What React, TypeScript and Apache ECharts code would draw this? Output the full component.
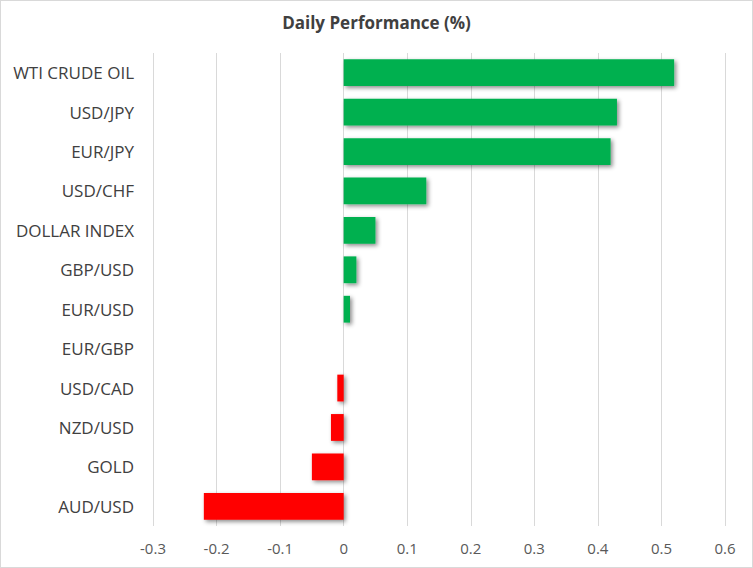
import React, { useEffect, useRef } from "react";
import * as echarts from "echarts";

const categories = [
  "WTI CRUDE OIL",
  "USD/JPY",
  "EUR/JPY",
  "USD/CHF",
  "DOLLAR INDEX",
  "GBP/USD",
  "EUR/USD",
  "EUR/GBP",
  "USD/CAD",
  "NZD/USD",
  "GOLD",
  "AUD/USD",
];
const values = [0.52, 0.43, 0.42, 0.13, 0.05, 0.02, 0.01, 0, -0.01, -0.02, -0.05, -0.22];
const title = "Daily Performance (%)";

export default function App() {
  const ref = useRef<HTMLDivElement>(null);
  useEffect(() => {
    if (!ref.current) return;
    const chart = echarts.init(ref.current, null, { renderer: "svg" });
    chart.setOption({
      animation: false,
      backgroundColor: "#ffffff",
      title: {
        text: title,
        left: "center",
        top: 8,
        textStyle: { fontFamily: "Open Sans", fontSize: 17, fontWeight: "bold", color: "#404040" },
      },
      grid: { left: 152, right: 27, top: 52, bottom: 41, containLabel: false },
      xAxis: {
        type: "value",
        min: -0.3,
        max: 0.6,
        interval: 0.1,
        axisLine: { show: false },
        axisTick: { show: false },
        splitLine: { show: true, lineStyle: { color: "#d9d9d9", width: 1 } },
        axisLabel: {
          fontFamily: "Open Sans",
          fontSize: 15,
          color: "#595959",
          margin: 14,
          formatter: (v: number) => String(Math.round(v * 10) / 10),
        },
      },
      yAxis: {
        type: "category",
        data: categories,
        inverse: true,
        axisLine: { show: false },
        axisTick: { show: false },
        axisLabel: { fontFamily: "Open Sans", fontSize: 17, color: "#404040", margin: 19 },
      },
      series: [
        {
          type: "bar",
          data: values.map((v) => ({
            value: v,
            itemStyle: { color: v >= 0 ? "#00B050" : "#FF0000" },
          })),
          barCategoryGap: "32%",
          itemStyle: {
            shadowColor: "rgba(0,0,0,0.45)",
            shadowBlur: 4,
            shadowOffsetX: 2,
            shadowOffsetY: 2,
          },
        },
      ],
    });
    return () => chart.dispose();
  }, []);
  return (
    <div
      style={{
        position: "fixed",
        left: 0,
        top: 0,
        width: 753,
        height: 568,
        boxSizing: "border-box",
        border: "1px solid #d9d9d9",
        background: "#fff",
      }}
    >
      <div ref={ref} style={{ width: 751, height: 566 }} />
    </div>
  );
}
